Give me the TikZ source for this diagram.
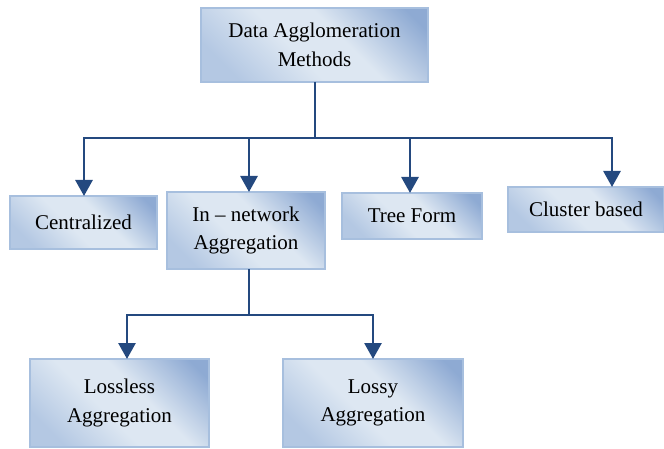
\documentclass[tikz,border=0pt]{standalone}
\usepackage{fontspec}
\setmainfont{Liberation Serif}
\usetikzlibrary{arrows.meta}
\definecolor{boxdark}{HTML}{8EAAD3}
\definecolor{boxmid}{HTML}{B4C8E3}
\definecolor{boxlight}{HTML}{DDE7F2}
\definecolor{boxedge}{HTML}{A7BFDE}
\definecolor{linkblue}{HTML}{24497F}
% diagonal band shading: dark toward the upper right corner,
% softer toward the lower left one, light through the middle
\pgfdeclarehorizontalshading{boxshade}{100bp}{%
  color(0bp)=(boxmid); color(24bp)=(boxmid); color(44bp)=(boxlight);
  color(58bp)=(boxlight); color(80bp)=(boxdark); color(100bp)=(boxdark)}
\tikzset{
  methodbox/.style={rectangle, draw=boxedge, line width=1.6pt,
    shading=boxshade, shading angle=45, inner sep=0pt, outer sep=0pt,
    align=center, font=\fontsize{21}{28.5}\selectfont},
  link/.style={draw=linkblue, line width=2.8pt},
  arrowlink/.style={link, -{Triangle[length=16pt,width=17pt]}}
}
\begin{document}
\begin{tikzpicture}[x=1pt, y=-1pt]
\useasboundingbox (0,0) rectangle (664,449);

% boxes
\node[methodbox, minimum width=227pt, minimum height=74pt] (top) at (314.5,45) {Data Agglomeration\\Methods};
\node[methodbox, minimum width=147pt, minimum height=53pt] (cent) at (83.5,222.5) {Centralized};
\node[methodbox, minimum width=158pt, minimum height=77pt] (innet) at (246,230.5) {In -- network\\Aggregation};
\node[methodbox, minimum width=140pt, minimum height=46pt] (tree) at (412,216) {Tree Form};
\node[methodbox, minimum width=156pt, minimum height=45pt] (clus) at (586,209.5) {Cluster based};
\node[methodbox, minimum width=179pt, minimum height=88pt] (lossless) at (119.5,403) {Lossless\\Aggregation};
\node[methodbox, minimum width=180pt, minimum height=88pt] (lossy) at (373,403) {Lossy\\Aggregation};

% junction points of the connector trees
\coordinate (bus) at (315,138);
\coordinate (split) at (249,315);

% top level connectors
\draw[link] (top.south -| bus) -- (bus);
\draw[arrowlink] (bus) -| ([xshift=0.5pt]cent.north);
\draw[arrowlink] (bus) -| ([xshift=3pt]innet.north);
\draw[arrowlink] (bus) -| ([xshift=-2pt]tree.north);
\draw[arrowlink] (bus) -| ([xshift=26pt]clus.north);

% in-network connectors
\draw[link] (innet.south -| split) -- (split);
\draw[arrowlink] (split) -| ([xshift=7.5pt]lossless.north);
\draw[arrowlink] (split) -| (lossy.north);
\end{tikzpicture}
\end{document}
